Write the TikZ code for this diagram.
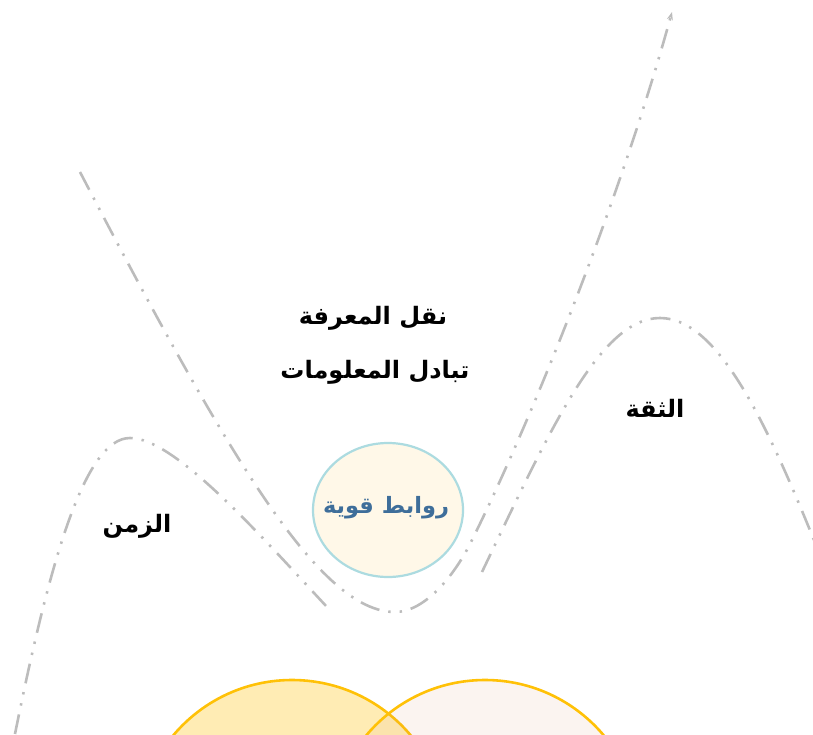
\documentclass[tikz,border=0pt]{standalone}
\usepackage{fontspec}
\newfontfamily\arabicfont[Script=Arabic]{DejaVu Sans}
\TeXXeTstate=1
\usetikzlibrary{arrows.meta,shapes.geometric}
\definecolor{lineGray}{RGB}{188,188,188}
\definecolor{amberLine}{RGB}{255,193,7}
\definecolor{paleBlue}{RGB}{172,219,224}
\definecolor{creamFill}{RGB}{255,248,232}
\definecolor{steelText}{RGB}{62,110,154}
\definecolor{brownish}{RGB}{215,150,105}
\tikzset{
  curveline/.style={draw=lineGray, line width=2.6pt,
    dash pattern=on 20pt off 9pt on 2.4pt off 9pt on 2.4pt off 9pt},
  label/.style={font=\arabicfont\bfseries\fontsize{24}{28}\selectfont, text=black, inner sep=0pt},
  venn/.style={draw=amberLine, line width=2.6pt},
}
\begin{document}
\begin{tikzpicture}[x=1pt,y=-1pt]
\useasboundingbox (0,0) rectangle (813,734);
\begin{scope}
\clip (0,0) rectangle (813,734);
% bottom venn circles
\node[venn, circle, minimum size=310pt, fill=amberLine, fill opacity=0.3, draw opacity=1] (vl) at (292,835) {};
\node[venn, circle, minimum size=310pt, fill=brownish, fill opacity=0.1, draw opacity=1] (vr) at (485,835) {};
% curves
\coordinate (zs) at (15,734);
\coordinate (zp) at (130,438);
\coordinate (ze) at (327,607);
\draw[curveline] (zs) .. controls (50,560) and (85,438) .. (zp) .. controls (175,438) and (260,535) .. (ze);
\coordinate (ms) at (80,172);
\coordinate (mb) at (395,612);
\coordinate (mm) at (472,540);
\coordinate (me) at (672,12);
\draw[curveline, -{Stealth[length=8pt,width=6pt]}] (ms) .. controls (230,460) and (320,612) .. (mb) .. controls (425,612) and (455,575) .. (mm) .. controls (532,419) and (620,200) .. (me);
\coordinate (ts) at (482,572);
\coordinate (tp) at (660,318);
\coordinate (te) at (822,560);
\draw[curveline] (ts) .. controls (550,430) and (600,318) .. (tp) .. controls (720,318) and (770,430) .. (te);
\end{scope}
% small circle
\node[ellipse, draw=paleBlue, line width=2.2pt, fill=creamFill, minimum width=150pt, minimum height=134pt, inner sep=0pt] (core) at (388,510) {};
\node[label, text=steelText, font=\arabicfont\bfseries\fontsize{22.5}{26}\selectfont] (coret) at (386,508) {\beginR روابط قوية\endR};
% labels
\node[label] (l1) at (373,318) {\beginR نقل المعرفة\endR};
\node[label] (l2) at (375,372) {\beginR تبادل المعلومات\endR};
\node[label] (l3) at (655,408) {\beginR الثقة\endR};
\node[label] (l4) at (137,526) {\beginR الزمن\endR};
\end{tikzpicture}
\end{document}
